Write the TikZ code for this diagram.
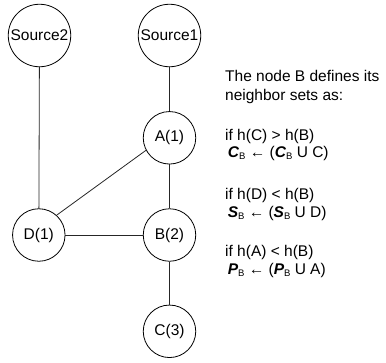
\documentclass[tikz,border=0pt]{standalone}
\usepackage{fontspec}
\setmainfont{Liberation Sans}
\newfontfamily\arrowfont{DejaVu Sans}
\newcommand{\subB}{\raisebox{-0.25ex}{\fontsize{9.5}{10}\selectfont B}}
\newcommand{\bsym}[1]{\textbf{\textit{#1}}}
\begin{document}
\begin{tikzpicture}[x=1pt,y=-1pt,
  font=\fontsize{15.5}{18}\selectfont,
  big/.style={circle,draw,line width=0.8pt,minimum size=62.5pt,inner sep=0pt},
  small/.style={circle,draw,line width=0.8pt,minimum size=52.5pt,inner sep=0pt},
  edge/.style={line width=0.8pt,draw=black!85},
  txt/.style={anchor=base west,inner sep=0pt}]
\useasboundingbox (0,0) rectangle (386,362);
\node[big] (s2) at (39.5,35.5) {Source2};
\node[big] (s1) at (169.5,35.5) {Source1};
\node[small] (a) at (169.5,137.8) {A(1)};
\node[small] (d) at (38.8,235) {D(1)};
\node[small] (b) at (169.5,235) {B(2)};
\node[small] (c) at (169.5,331.3) {C(3)};
\draw[edge] (s2) -- (d);
\draw[edge] (s1) -- (a);
\draw[edge] (a) -- (b);
\draw[edge] (b) -- (c);
\draw[edge] (d) -- (b);
\draw[edge] (d.48) -- (a.208);
\node[txt] (t1) at (225,81) {The node B defines its};
\node[txt] (t2) at (225,100) {neighbor sets as:};
\node[txt] (t3) at (225,140) {if h(C) > h(B)};
\node[txt] (t4) at (225,157.5) {\,\bsym{C}\subB{} ← (\bsym{C}\subB{} U C)};
\node[txt] (t5) at (225,199) {if h(D) < h(B)};
\node[txt] (t6) at (225,217) {\,\bsym{S}\subB{} ← (\bsym{S}\subB{} U D)};
\node[txt] (t7) at (225,256) {if h(A) < h(B)};
\node[txt] (t8) at (225,274) {\,\bsym{P}\subB{} ← (\bsym{P}\subB{} U A)};
\end{tikzpicture}
\end{document}
